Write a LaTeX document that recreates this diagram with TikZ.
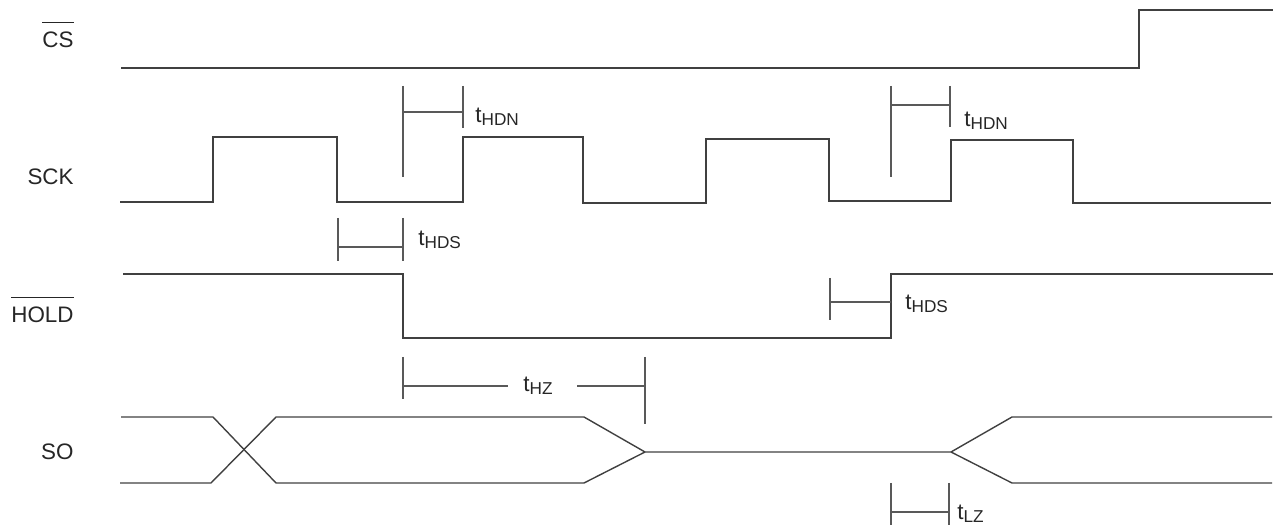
\documentclass[tikz,border=0pt]{standalone}
\usepackage{fontspec}
\setmainfont{Liberation Sans}
\newcommand\myovl[1]{\leavevmode\vbox{\hrule height 0.55pt\kern 4.6pt\hbox{#1}}}
\newcommand\tsub[2]{#1\raisebox{-1.5pt}{\fontsize{8.6}{9}\selectfont #2}}
\begin{document}
\begin{tikzpicture}[x=0.5pt,y=-0.5pt,
  wave/.style={draw=black!75,line width=0.7pt,line join=miter},
  tmark/.style={draw=black!65,line width=0.7pt},
  sig/.style={anchor=base east,inner sep=0pt,text=black!85,font=\fontsize{11.2}{13}\selectfont},
  tlab/.style={anchor=base west,inner sep=0pt,text=black!85,font=\fontsize{11.2}{13}\selectfont}]
\useasboundingbox (0,0) rectangle (1284,528);
% signal labels
\node[sig] (cs) at (74,48) {\myovl{CS}};
\node[sig] (sck) at (74,185) {SCK};
\node[sig] (hold) at (74,323) {\myovl{HOLD}};
\node[sig] (so) at (74,460) {SO};
% CS
\draw[wave] (121,68) -- (1139,68) -- (1139,10) -- (1273,10);
% SCK
\draw[wave] (120,202) -- (213,202) -- (213,137) -- (337,137) -- (337,202) -- (463,202)
  -- (463,137) -- (583,137) -- (583,203) -- (706,203) -- (706,139) -- (829,139)
  -- (829,201) -- (951,201) -- (951,140) -- (1073,140) -- (1073,203) -- (1271,203);
% HOLD
\draw[wave] (123,274) -- (403,274) -- (403,338) -- (891,338) -- (891,274) -- (1273,274);
% SO
\draw[wave] (121,417) -- (213,417) -- (276,483) -- (584,483) -- (645,452) -- (951,452)
  -- (1012,417) -- (1272,417);
\draw[wave] (120,483) -- (211,483) -- (276,417) -- (584,417) -- (645,452);
\draw[wave] (951,452) -- (1012,483) -- (1272,483);
% tHDN 1
\draw[tmark] (403,86) -- (403,177);
\draw[tmark] (463,86) -- (463,128);
\draw[tmark] (403,112) -- (463,112);
\node[tlab] (thdn1) at (475,123) {\tsub{t}{HDN}};
% tHDN 2
\draw[tmark] (891,86) -- (891,177);
\draw[tmark] (950,86) -- (950,127);
\draw[tmark] (891,105) -- (950,105);
\node[tlab] (thdn2) at (964,127) {\tsub{t}{HDN}};
% tHDS 1
\draw[tmark] (338,218) -- (338,261);
\draw[tmark] (403,218) -- (403,261);
\draw[tmark] (338,247) -- (403,247);
\node[tlab] (thds1) at (418,246) {\tsub{t}{HDS}};
% tHDS 2
\draw[tmark] (830,278) -- (830,320);
\draw[tmark] (830,302) -- (891,302);
\node[tlab] (thds2) at (905,310) {\tsub{t}{HDS}};
% tHZ
\draw[tmark] (403,357) -- (403,399);
\draw[tmark] (403,386) -- (508,386);
\draw[tmark] (577,386) -- (645,386);
\draw[tmark] (645,357) -- (645,424);
\node[tlab] (thz) at (523,392) {\tsub{t}{HZ}};
% tLZ
\draw[tmark] (891,483) -- (891,525);
\draw[tmark] (949,483) -- (949,525);
\draw[tmark] (891,512) -- (949,512);
\node[tlab] (tlz) at (957,520) {\tsub{t}{LZ}};
\end{tikzpicture}
\end{document}
